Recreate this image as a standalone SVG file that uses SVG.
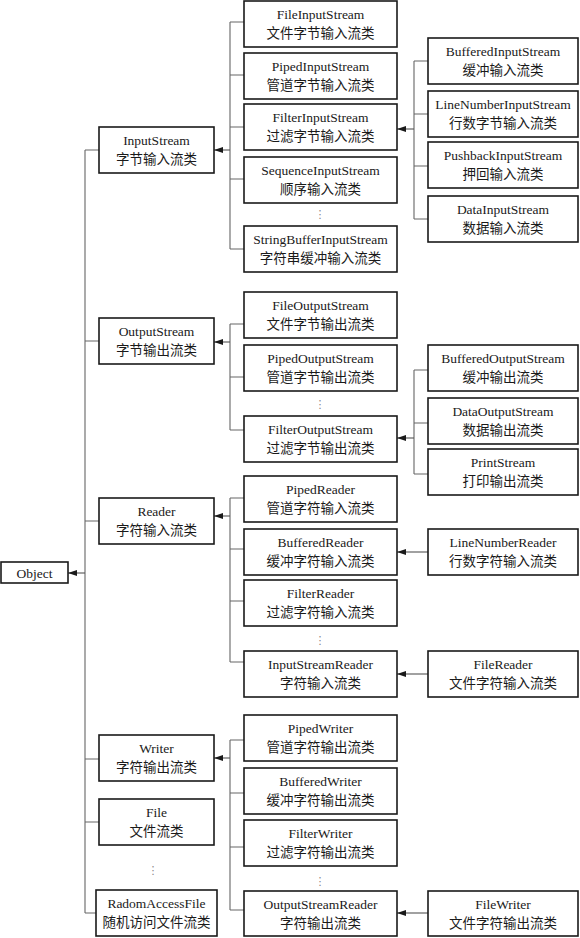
<svg xmlns="http://www.w3.org/2000/svg" width="580" height="938" viewBox="0 0 580 938">
<style>
.box{fill:#fff;stroke:#1a1a1a;stroke-width:1.6}
.t{font-family:"Liberation Serif","Noto Sans CJK SC",serif;font-size:13.5px;fill:#1a1a1a;text-anchor:middle}
.c{fill:none;stroke:#666;stroke-width:1.1}
.a{fill:none;stroke:#555;stroke-width:1.1;marker-end:url(#arr)}
.dots{font-family:"DejaVu Sans",sans-serif;font-size:11px;fill:#888;text-anchor:middle}
</style>
<defs>
<marker id="arr" markerUnits="userSpaceOnUse" markerWidth="9" markerHeight="6" refX="9" refY="3" orient="auto">
<path d="M0,0 L9,3 L0,6 Z" fill="#1a1a1a"/>
</marker>
</defs>
<g id="connectors">
<path class="c" d="M85,150 V913 M85,150 H99 M85,341 H99 M85,521 H99 M85,759 H99 M85,822 H99 M85,913 H96"/>
<line class="a" x1="85" y1="573" x2="68" y2="573"/>
<path class="c" d="M230,22 V249 M230,22 H244 M230,75 H244 M230,127 H244 M230,179 H244 M230,249 H244"/>
<line class="a" x1="230" y1="150" x2="214" y2="150"/>
<path class="c" d="M414,61 V219 M414,61 H428 M414,114 H428 M414,166 H428 M414,219 H428"/>
<line class="a" x1="414" y1="129" x2="397" y2="129"/>
<path class="c" d="M230,324 V430 M230,324 H244 M230,377 H244 M230,430 H244"/>
<line class="a" x1="230" y1="342" x2="214" y2="342"/>
<path class="c" d="M414,370 V474 M414,370 H428 M414,423 H428 M414,474 H428"/>
<line class="a" x1="414" y1="438" x2="397" y2="438"/>
<path class="c" d="M230,498 V662 M230,498 H244 M230,549 H244 M230,601 H244 M230,662 H244"/>
<line class="a" x1="230" y1="516" x2="214" y2="516"/>
<line class="a" x1="428" y1="552" x2="397" y2="552"/>
<line class="a" x1="428" y1="674" x2="397" y2="674"/>
<path class="c" d="M230,740 V910 M230,740 H244 M230,793 H244 M230,847 H244 M230,910 H244"/>
<line class="a" x1="230" y1="758" x2="214" y2="758"/>
<line class="a" x1="428" y1="913" x2="397" y2="913"/>
</g>
<g id="dots">
<text class="dots" x="320" y="218">⋮</text>
<text class="dots" x="320" y="408">⋮</text>
<text class="dots" x="320" y="644">⋮</text>
<text class="dots" x="320" y="885">⋮</text>
<text class="dots" x="153" y="874">⋮</text>
</g>
<g id="Object"><rect class="box" x="1" y="562" width="67" height="21"/><text class="t" x="34.5" y="577.5">Object</text></g>
<g id="InputStream"><rect class="box" x="99" y="127" width="115" height="46"/><text class="t" x="156.5" y="145">InputStream</text><text class="t" x="156.5" y="164">字节输入流类</text></g>
<g id="OutputStream"><rect class="box" x="99" y="318" width="115" height="46"/><text class="t" x="156.5" y="336">OutputStream</text><text class="t" x="156.5" y="355">字节输出流类</text></g>
<g id="Reader"><rect class="box" x="99" y="498" width="115" height="46"/><text class="t" x="156.5" y="516">Reader</text><text class="t" x="156.5" y="535">字符输入流类</text></g>
<g id="Writer"><rect class="box" x="99" y="735" width="115" height="46"/><text class="t" x="156.5" y="753">Writer</text><text class="t" x="156.5" y="772">字符输出流类</text></g>
<g id="File"><rect class="box" x="99" y="799" width="115" height="46"/><text class="t" x="156.5" y="817">File</text><text class="t" x="156.5" y="836">文件流类</text></g>
<g id="RadomAccessFile"><rect class="box" x="96" y="890" width="121" height="46"/><text class="t" x="156.5" y="908">RadomAccessFile</text><text class="t" x="156.5" y="927">随机访问文件流类</text></g>
<g id="FileInputStream"><rect class="box" x="244" y="1" width="153" height="46"/><text class="t" x="320.5" y="19">FileInputStream</text><text class="t" x="320.5" y="38">文件字节输入流类</text></g>
<g id="PipedInputStream"><rect class="box" x="244" y="53" width="153" height="46"/><text class="t" x="320.5" y="71">PipedInputStream</text><text class="t" x="320.5" y="90">管道字节输入流类</text></g>
<g id="FilterInputStream"><rect class="box" x="244" y="104" width="153" height="46"/><text class="t" x="320.5" y="122">FilterInputStream</text><text class="t" x="320.5" y="141">过滤字节输入流类</text></g>
<g id="SequenceInputStream"><rect class="box" x="244" y="157" width="153" height="46"/><text class="t" x="320.5" y="175">SequenceInputStream</text><text class="t" x="320.5" y="194">顺序输入流类</text></g>
<g id="StringBufferInputStream"><rect class="box" x="244" y="226" width="153" height="46"/><text class="t" x="320.5" y="244">StringBufferInputStream</text><text class="t" x="320.5" y="263">字符串缓冲输入流类</text></g>
<g id="FileOutputStream"><rect class="box" x="244" y="292" width="153" height="46"/><text class="t" x="320.5" y="310">FileOutputStream</text><text class="t" x="320.5" y="329">文件字节输出流类</text></g>
<g id="PipedOutputStream"><rect class="box" x="244" y="345" width="153" height="46"/><text class="t" x="320.5" y="363">PipedOutputStream</text><text class="t" x="320.5" y="382">管道字节输出流类</text></g>
<g id="FilterOutputStream"><rect class="box" x="244" y="416" width="153" height="46"/><text class="t" x="320.5" y="434">FilterOutputStream</text><text class="t" x="320.5" y="453">过滤字节输出流类</text></g>
<g id="PipedReader"><rect class="box" x="244" y="476" width="153" height="46"/><text class="t" x="320.5" y="494">PipedReader</text><text class="t" x="320.5" y="513">管道字符输入流类</text></g>
<g id="BufferedReader"><rect class="box" x="244" y="529" width="153" height="46"/><text class="t" x="320.5" y="547">BufferedReader</text><text class="t" x="320.5" y="566">缓冲字符输入流类</text></g>
<g id="FilterReader"><rect class="box" x="244" y="580" width="153" height="46"/><text class="t" x="320.5" y="598">FilterReader</text><text class="t" x="320.5" y="617">过滤字符输入流类</text></g>
<g id="InputStreamReader"><rect class="box" x="244" y="651" width="153" height="46"/><text class="t" x="320.5" y="669">InputStreamReader</text><text class="t" x="320.5" y="688">字符输入流类</text></g>
<g id="PipedWriter"><rect class="box" x="244" y="715" width="153" height="46"/><text class="t" x="320.5" y="733">PipedWriter</text><text class="t" x="320.5" y="752">管道字符输出流类</text></g>
<g id="BufferedWriter"><rect class="box" x="244" y="768" width="153" height="46"/><text class="t" x="320.5" y="786">BufferedWriter</text><text class="t" x="320.5" y="805">缓冲字符输出流类</text></g>
<g id="FilterWriter"><rect class="box" x="244" y="820" width="153" height="46"/><text class="t" x="320.5" y="838">FilterWriter</text><text class="t" x="320.5" y="857">过滤字符输出流类</text></g>
<g id="OutputStreamReader"><rect class="box" x="244" y="891" width="153" height="45"/><text class="t" x="320.5" y="909">OutputStreamReader</text><text class="t" x="320.5" y="928">字符输出流类</text></g>
<g id="BufferedInputStream"><rect class="box" x="428" y="38" width="150" height="46"/><text class="t" x="503" y="56">BufferedInputStream</text><text class="t" x="503" y="75">缓冲输入流类</text></g>
<g id="LineNumberInputStream"><rect class="box" x="428" y="91" width="150" height="46"/><text class="t" x="503" y="109">LineNumberInputStream</text><text class="t" x="503" y="128">行数字节输入流类</text></g>
<g id="PushbackInputStream"><rect class="box" x="428" y="142" width="150" height="46"/><text class="t" x="503" y="160">PushbackInputStream</text><text class="t" x="503" y="179">押回输入流类</text></g>
<g id="DataInputStream"><rect class="box" x="428" y="196" width="150" height="46"/><text class="t" x="503" y="214">DataInputStream</text><text class="t" x="503" y="233">数据输入流类</text></g>
<g id="BufferedOutputStream"><rect class="box" x="428" y="345" width="150" height="46"/><text class="t" x="503" y="363">BufferedOutputStream</text><text class="t" x="503" y="382">缓冲输出流类</text></g>
<g id="DataOutputStream"><rect class="box" x="428" y="398" width="150" height="46"/><text class="t" x="503" y="416">DataOutputStream</text><text class="t" x="503" y="435">数据输出流类</text></g>
<g id="PrintStream"><rect class="box" x="428" y="449" width="150" height="46"/><text class="t" x="503" y="467">PrintStream</text><text class="t" x="503" y="486">打印输出流类</text></g>
<g id="LineNumberReader"><rect class="box" x="428" y="529" width="150" height="46"/><text class="t" x="503" y="547">LineNumberReader</text><text class="t" x="503" y="566">行数字符输入流类</text></g>
<g id="FileReader"><rect class="box" x="428" y="651" width="150" height="46"/><text class="t" x="503" y="669">FileReader</text><text class="t" x="503" y="688">文件字符输入流类</text></g>
<g id="FileWriter"><rect class="box" x="428" y="891" width="150" height="45"/><text class="t" x="503" y="909">FileWriter</text><text class="t" x="503" y="928">文件字符输出流类</text></g>
</svg>
